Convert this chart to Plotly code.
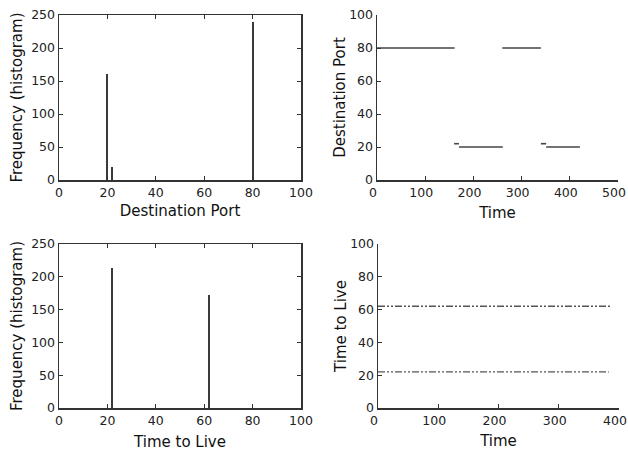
import plotly.graph_objects as go

# Top-left: Destination port histogram
port_values = [20, 22, 80]
port_counts = [161, 20, 240]

# Top-right: destination port over time (segments)
seg_start = [0, 160, 170, 260, 340, 351]
seg_end = [161, 170, 261, 340, 351, 421]
seg_port = [80, 22, 20, 80, 22, 20]

# Bottom-left: TTL histogram
ttl_values = [22, 62]
ttl_counts = [213, 172]

# Bottom-right: TTL over time
ttl_line_values = [62, 22]
ttl_line_end = [385, 383]

FONT = "DejaVu Sans"
AX = "#333333"
MARK = "#3a3a3a"

fig = go.Figure()

fig.add_trace(go.Bar(x=port_values, y=port_counts, width=0.8, marker=dict(color=MARK, line=dict(width=0)),
                     xaxis="x", yaxis="y", showlegend=False))

xs, ys = [], []
for s, e, p in zip(seg_start, seg_end, seg_port):
    xs += [s, e, None]
    ys += [p, p, None]
fig.add_trace(go.Scatter(x=xs, y=ys, mode="lines", line=dict(color="#444444", width=1.6),
                         xaxis="x2", yaxis="y2", showlegend=False))

fig.add_trace(go.Bar(x=ttl_values, y=ttl_counts, width=0.8, marker=dict(color=MARK, line=dict(width=0)),
                     xaxis="x3", yaxis="y3", showlegend=False))

for v, e in zip(ttl_line_values, ttl_line_end):
    fig.add_trace(go.Scatter(x=[0, e], y=[v, v], mode="lines",
                             line=dict(color="#555555", width=1.4, dash="7px,2px,2px,2px,2px,2px"),
                             xaxis="x4", yaxis="y4", showlegend=False))

W, H = 628, 451

def dom(a, b, total):
    return [a / total, b / total]

tickfont = dict(family=FONT, size=12.5, color="#222222")
titlefont = dict(family=FONT, size=15, color="#111111")

def axis(domain, rng, dtick, title, mirror, anchor, standoff=None, shift=0):
    d = dict(domain=domain, range=rng, dtick=dtick, tick0=0, showgrid=False, zeroline=False,
             showline=True, linecolor=AX, linewidth=1.5, ticks="inside", ticklen=4,
             tickcolor=AX, tickwidth=1, tickfont=tickfont, automargin=False,
             ticklabeloverflow="allow", ticklabelshift=shift,
             title=dict(text=title, font=titlefont), mirror=mirror, anchor=anchor, fixedrange=True)
    if standoff is not None:
        d["title"]["standoff"] = standoff
    return d

lx = dom(59, 301, W)
rx_top = dom(377, 618, W)
rx_bot = dom(378, 619, W)
ty = [(H - 180) / H, (H - 15) / H]
by = [(H - 408) / H, (H - 244) / H]

fig.update_layout(
    template="none",
    width=W, height=H, margin=dict(l=0, r=0, t=0, b=0, autoexpand=False),
    paper_bgcolor="white", plot_bgcolor="white", bargap=0,
    xaxis=axis(lx, [0, 100], 20, "Destination Port", "ticks", "y", 7),
    yaxis=axis(ty, [0, 250], 50, "Frequency (histogram)", "ticks", "x", 5),
    xaxis2=axis(rx_top, [0, 500], 100, "Time", False, "y2", 9, shift=-4),
    yaxis2=axis(ty, [0, 100], 20, "Destination Port", False, "x2", 0),
    xaxis3=axis(lx, [0, 100], 20, "Time to Live", "ticks", "y3", 11),
    yaxis3=axis(by, [0, 250], 50, "Frequency (histogram)", "ticks", "x3", 5),
    xaxis4=axis(rx_bot, [0, 400], 100, "Time", False, "y4", 9, shift=-4),
    yaxis4=axis(by, [0, 100], 20, "Time to Live", False, "x4", 0),
)

fig.write_html("out.html", config={"displayModeBar": False, "staticPlot": True},
               post_script="document.body.style.margin='0px';document.body.style.overflow='hidden';")
